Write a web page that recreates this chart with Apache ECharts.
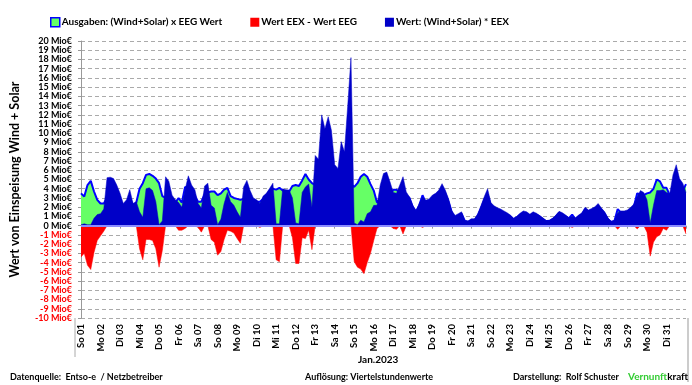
<!DOCTYPE html>
<html>
<head>
<meta charset="utf-8">
<script src="https://cdn.jsdelivr.net/npm/echarts@6/dist/echarts.min.js"></script>
<style>
html,body{margin:0;padding:0;background:#fff;}
#c{width:692px;height:385px;}
</style>
</head>
<body>
<div id="c"></div>
<script>
// Day labels (x-axis ticks), Jan 2023
const dayLabels = ['So 01','Mo 02','Di 03','Mi 04','Do 05','Fr 06','Sa 07','So 08','Mo 09','Di 10',
  'Mi 11','Do 12','Fr 13','Sa 14','So 15','Mo 16','Di 17','Mi 18','Do 19','Fr 20',
  'Sa 21','So 22','Mo 23','Di 24','Mi 25','Do 26','Fr 27','Sa 28','So 29','Mo 30','Di 31'];
const hours = ['00','04','08','12','16','20'];
const endLabel = 'Mi 01.02 00';

// y tick labels
const yTicks = [-10,-9,-8,-7,-6,-5,-4,-3,-2,-1,0,1,2,3,4,5,6,7,8,9,10,11,12,13,14,15,16,17,18,19,20];

// Ausgaben: (Wind+Solar) x EEG Wert  [Mio €], 4-hourly
const eegValue = [
  3.5,3.15,4.4,4.85,3.7,2.8,
  2.4,2.4,3.0,3.5,3.4,3.0,
  2.8,2.1,2.4,3.0,2.2,2.5,
  4.0,4.6,5.5,5.6,5.4,5.1,
  4.6,3.2,3.0,3.0,2.7,2.5,
  3.0,2.5,4.2,4.0,3.6,3.2,
  2.6,2.6,3.4,3.6,3.7,3.7,
  3.3,3.5,3.9,4.1,3.2,3.0,
  2.9,2.8,2.9,3.0,2.8,2.6,
  2.6,2.6,2.9,3.3,3.8,4.0,
  3.9,4.1,3.8,3.7,3.7,4.3,
  4.4,4.3,4.9,5.6,5.0,4.6,
  4.4,4.5,4.6,4.8,5.0,4.8,
  4.6,4.4,4.6,4.7,4.8,4.5,
  4.2,4.6,5.3,5.6,5.3,4.5,
  3.8,2.5,3.0,3.2,3.3,3.2,
  3.9,3.9,3.6,3.8,3.3,3.0,
  2.0,1.5,2.2,3.3,2.5,2.6,
  3.0,3.2,3.5,4.0,3.5,2.6,
  1.4,0.9,1.1,1.3,0.5,0.4,
  0.6,0.6,1.1,1.9,2.8,3.4,
  2.2,1.9,1.7,1.6,1.4,1.2,
  1.0,0.7,0.9,1.2,1.4,1.3,
  1.1,1.3,1.2,1.0,0.7,0.5,
  0.5,0.7,1.0,1.4,1.2,1.0,
  0.8,1.2,0.7,1.0,1.2,1.8,
  1.5,1.6,1.8,2.1,1.7,1.3,
  0.7,0.4,0.5,1.8,1.4,1.4,
  1.5,1.8,2.1,3.5,3.4,3.3,
  3.5,3.6,4.0,5.0,4.8,4.1,
  4.1,3.3,3.8,4.0,3.9,3.8,
  4.5
];

// Wert: (Wind+Solar) * EEX  [Mio €]
const eexValue = [
  0.1,0.2,0.1,0.1,0.8,1.2,
  1.3,1.8,5.2,5.25,5.1,4.4,
  3.5,2.4,2.8,3.9,2.4,2.6,
  1.5,0.9,4.0,4.1,3.8,2.6,
  0.1,0.5,5.3,4.8,3.3,2.8,
  2.5,2.0,3.9,5.4,4.4,3.9,
  2.4,1.9,4.3,4.6,2.2,1.9,
  0.1,0.7,2.4,3.6,2.6,2.2,
  1.5,0.9,4.2,4.9,3.8,3.0,
  2.8,2.4,3.2,3.5,4.05,4.6,
  0.2,0.2,4.0,3.9,3.85,3.0,
  0.3,0.2,3.6,4.2,4.5,2.0,
  7.6,7.2,12.0,10.5,11.8,10.3,
  6.6,6.2,9.1,8.0,13.0,18.2,
  0.3,0.1,0.6,0.4,1.3,1.5,
  2.2,2.2,4.4,5.65,5.8,4.75,
  3.6,3.5,4.4,5.3,3.65,3.1,
  2.2,1.65,2.4,3.1,2.75,2.9,
  3.3,3.5,3.85,4.55,3.85,2.9,
  1.65,1.1,1.3,1.5,0.6,0.5,
  0.75,0.75,1.3,2.2,3.15,4.0,
  2.5,2.15,1.95,1.8,1.6,1.4,
  1.15,0.8,1.0,1.35,1.6,1.5,
  1.25,1.5,1.35,1.1,0.85,0.55,
  0.6,0.8,1.15,1.55,1.4,1.15,
  0.85,1.0,0.85,1.15,1.4,2.0,
  1.7,1.85,2.05,2.4,1.9,1.5,
  0.85,0.45,0.6,1.4,1.6,1.6,
  1.7,2.0,2.35,3.15,3.8,3.6,
  2.8,0.3,2.2,3.8,3.8,3.9,
  3.6,3.45,5.5,6.6,5.1,4.6,
  3.6
];

// Wert EEX - Wert EEG  [Mio €] (negative part)
const diffValue = [
  -3.4,-3.0,-4.3,-4.75,-2.9,-1.6,
  -1.1,-0.6,0,0,0,0,
  0,0,0,0,0,0,
  -2.5,-3.7,-1.5,-1.5,-1.6,-2.5,
  -4.5,-2.7,0,0,0,0,
  -0.5,-0.5,-0.3,0,0,0,
  -0.2,-0.7,0,0,-1.5,-1.8,
  -3.2,-2.8,-1.5,-0.5,-0.6,-0.8,
  -1.4,-1.9,0,0,0,0,
  0,-0.2,0,0,0,0,
  -3.7,-3.9,0,0,0,-1.3,
  -4.1,-4.1,-1.3,-1.4,-0.5,-2.6,
  0,0,0,0,0,0,
  0,0,0,0,0,0,
  -3.9,-4.5,-4.7,-5.2,-4.0,-3.0,
  -1.6,-0.3,0,0,0,0,
  -0.3,-0.4,0,-0.9,0,0,
  0,0,0,-0.2,0,0,
  0,0,0,0,0,0,
  0,0,0,0,0,0,
  0,0,0,0,0,0,
  0,0,0,0,0,0,
  0,0,0,0,0,0,
  0,0,0,0,0,0,
  0,0,0,0,0,0,
  0,-0.2,0,0,0,0,
  0,0,0,0,0,0,
  0,0,0,-0.4,0,0,
  0,0,0,-0.35,0,0,
  -0.7,-3.3,-1.8,-1.2,-1.0,-0.3,
  -0.5,0,0,0,0,0,
  -0.9
];

const categories = [];
dayLabels.forEach(d => hours.forEach(h => categories.push(d + ' ' + h)));
categories.push(endLabel);

const FONT = 'Lato';
const BLUE = '#0000c8';
const GREEN = '#66ff66';
const RED = '#ff0000';
const nameG = 'Ausgaben: (Wind+Solar) x EEG Wert';
const nameR = 'Wert EEX - Wert EEG';
const nameB = 'Wert: (Wind+Solar) * EEX';

const chart = echarts.init(document.getElementById('c'), null, {renderer: 'canvas'});
chart.setOption({
  animation: false,
  backgroundColor: '#fff',
  textStyle: {fontFamily: FONT},
  legend: {
    top: 12, left: 45,
    itemWidth: 9, itemHeight: 9, itemGap: 28,
    icon: 'rect',
    textStyle: {fontFamily: FONT, fontWeight: 'bold', fontSize: 10, color: '#000', padding: [0,0,0,-3]},
    data: [
      {name: nameG, itemStyle: {color: GREEN, borderColor: '#0000ff', borderWidth: 1.5}},
      {name: nameR, itemStyle: {color: RED}},
      {name: nameB, itemStyle: {color: BLUE}}
    ]
  },
  grid: {left: 75, right: 6, top: 41, bottom: 67, containLabel: false},
  xAxis: {
    type: 'category',
    data: categories,
    boundaryGap: false,
    axisLine: {show: false},
    axisTick: {show: true, interval: (i) => i % 6 === 0, length: 3, lineStyle: {color: '#999'}},
    axisLabel: {
      interval: (i) => i % 6 === 0 && i < categories.length - 1,
      rotate: 90,
      margin: 6,
      fontFamily: FONT, fontWeight: 'bold', fontSize: 9.5, color: '#000',
      formatter: (v) => v.split(' ').slice(0, 2).join(' ')
    },
    splitLine: {show: false}
  },
  yAxis: {
    type: 'value',
    min: yTicks[0], max: yTicks[yTicks.length - 1], interval: 1,
    name: 'Wert von Einspeisung Wind + Solar',
    nameLocation: 'middle',
    nameGap: 60,
    nameRotate: 90,
    nameTextStyle: {fontFamily: FONT, fontWeight: 'bold', fontSize: 12.5, color: '#000'},
    axisLine: {show: true, lineStyle: {color: '#999'}},
    axisTick: {show: true, length: 3, lineStyle: {color: '#999'}},
    axisLabel: {
      margin: 9,
      fontFamily: FONT, fontWeight: 'bold', fontSize: 9,
      formatter: (v) => v + ' Mio€',
      color: (v) => (Number(v) < 0 ? RED : '#000')
    },
    splitLine: {show: true, lineStyle: {color: '#aaa', type: [4, 3], width: 1}}
  },
  series: [
    {
      name: nameG, type: 'line', data: eegValue, z: 2,
      showSymbol: false, symbol: 'none',
      lineStyle: {color: '#0000ff', width: 2},
      itemStyle: {color: GREEN},
      areaStyle: {color: GREEN, opacity: 1}
    },
    {
      name: nameB, type: 'line', data: eexValue, z: 3,
      showSymbol: false, symbol: 'none',
      lineStyle: {color: BLUE, width: 0.5},
      itemStyle: {color: BLUE},
      areaStyle: {color: BLUE, opacity: 1}
    },
    {
      name: nameR, type: 'line', data: diffValue, z: 4,
      showSymbol: false, symbol: 'none',
      lineStyle: {color: RED, width: 0.5},
      itemStyle: {color: RED},
      areaStyle: {color: RED, opacity: 1},
      markLine: {
        silent: true, symbol: 'none', label: {show: false},
        lineStyle: {color: '#8c8cff', type: 'solid', width: 2},
        data: [{yAxis: 0}]
      }
    }
  ],
  graphic: [
    {type: 'line', shape: {x1: 75, y1: 318, x2: 75, y2: 357}, style: {stroke: '#aaa', lineWidth: 1}},
    {type: 'line', shape: {x1: 688, y1: 318, x2: 688, y2: 382}, style: {stroke: '#ccc', lineWidth: 2}},
    {type: 'text', left: 358, top: 355, style: {text: 'Jan.2023', font: 'bold 10px ' + FONT, fill: '#000'}},
    {type: 'text', left: 10, top: 373, style: {text: 'Datenquelle:  Entso-e  / Netzbetreiber', font: 'bold 9px ' + FONT, fill: '#000'}},
    {type: 'text', left: 305, top: 373, style: {text: 'Auflösung: Viertelstundenwerte', font: 'bold 9px ' + FONT, fill: '#000'}},
    {type: 'text', left: 513, top: 373, style: {text: 'Darstellung:  Rolf Schuster', font: 'bold 9px ' + FONT, fill: '#000'}},
    {type: 'text', left: 628, top: 372, style: {
      text: '{g|Vernunft}{k|kraft}',
      rich: {g: {fill: '#33cc33', font: 'bold 10px ' + FONT}, k: {fill: '#000', font: 'bold 10px ' + FONT}}
    }}
  ]
});
</script>
</body>
</html>
